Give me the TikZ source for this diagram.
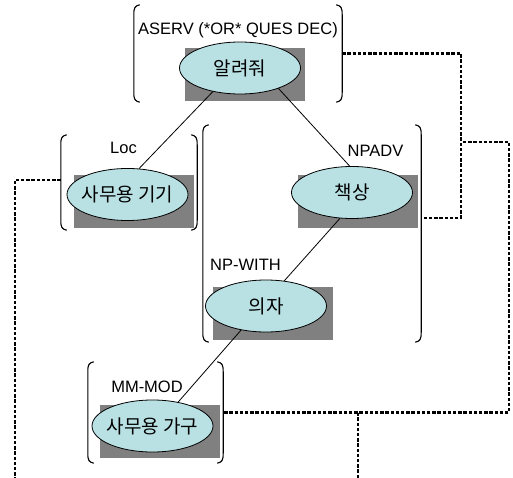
\documentclass[tikz,border=0pt]{standalone}
\usepackage{fontspec}
\setmainfont{Liberation Sans}
\newfontfamily\krfont{Noto Sans CJK KR}
\usetikzlibrary{shapes.geometric}
\definecolor{bubfill}{RGB}{185,225,228}
\definecolor{shadegray}{RGB}{128,128,128}
\newcommand\grpbrackets[1]{%
  \draw[brk] ([xshift=6pt]#1.north west) .. controls ([xshift=1pt,yshift=-1pt]#1.north west) and ([yshift=-3pt]#1.north west) .. ([yshift=-10pt]#1.north west)
     -- ([yshift=10pt]#1.south west) .. controls ([yshift=3pt]#1.south west) and ([xshift=1pt,yshift=1pt]#1.south west) .. ([xshift=6pt]#1.south west);
  \draw[brk] ([xshift=-6pt]#1.north east) .. controls ([xshift=-1pt,yshift=-1pt]#1.north east) and ([yshift=-3pt]#1.north east) .. ([yshift=-10pt]#1.north east)
     -- ([yshift=10pt]#1.south east) .. controls ([yshift=3pt]#1.south east) and ([xshift=-1pt,yshift=1pt]#1.south east) .. ([xshift=-6pt]#1.south east);
}
\begin{document}
\begin{tikzpicture}[x=1pt,y=-1pt,
  bub/.style={ellipse, draw=black, line width=0.8pt, fill=bubfill, minimum width=121pt, minimum height=52pt, inner sep=0pt, font=\krfont\fontsize{19}{19}\selectfont},
  shadebox/.style={fill=shadegray, draw=none, minimum width=120pt, minimum height=53pt, inner sep=0pt},
  lab/.style={font=\fontsize{16.5}{16.5}\selectfont, inner sep=0pt, anchor=base},
  grp/.style={draw=none, inner sep=0pt},
  brk/.style={line width=1.1pt},
  link/.style={line width=0.8pt},
  dsh/.style={line width=2.2pt, dash pattern=on 3.4pt off 1.8pt}
]
\fill[white] (0,0) rectangle (513,478);
\useasboundingbox (0,0) rectangle (513,478);

% groups (bracket spans)
\node[grp, minimum width=208pt, minimum height=97pt] (G1) at (238,53.5) {};
\node[grp, minimum width=136pt, minimum height=95pt] (G2) at (129,182.5) {};
\node[grp, minimum width=218pt, minimum height=217pt] (G3) at (312,233.5) {};
\node[grp, minimum width=135pt, minimum height=101pt] (G4) at (155.5,412.5) {};
\grpbrackets{G1}
\grpbrackets{G2}
\grpbrackets{G3}
\grpbrackets{G4}

% shadows
\node[shadebox] (s1) at (245,75) {};
\node[shadebox] (s2) at (133.5,201.5) {};
\node[shadebox] (s3) at (358,201.5) {};
\node[shadebox] (s4) at (273,313.5) {};
\node[shadebox] (s5) at (160,431.5) {};

% ellipses
\node[bub] (e1) at (240,68) {\makebox[0pt]{알려줘}};
\node[bub] (e2) at (127.5,194.5) {\makebox[0pt]{사무용 기기}};
\node[bub] (e3) at (352,192.5) {\makebox[0pt]{책상}};
\node[bub] (e4) at (266,306) {\makebox[0pt]{의자}};
\node[bub] (e5) at (152.5,426) {\makebox[0pt]{사무용 가구}};

% labels
\node[lab] (l1) at (238,35) {ASERV (*OR* QUES DEC)};
\node[lab] (l2) at (123.5,154) {Loc};
\node[lab] (l3) at (375.5,157) {NPADV};
\node[lab] (l4) at (245.5,270) {NP-WITH};
\node[lab] (l5) at (147,392) {MM-MOD};

% connectors
\draw[link] (e1.221) -- (e2.66);
\draw[link] (e1.332) -- (e3.95);
\draw[link] (e3.245) -- (e4.54);
\draw[link] (e4.224) -- (e5.43);

% dashed links
\coordinate (c1) at (461,218);
\coordinate (c2) at (463,142);
\coordinate (c3) at (509,412.5);
\coordinate (c4) at (358,478);
\coordinate (c5) at (15,478);
\draw[dsh] (G1.east) -| (c1) -- ([yshift=15.5pt]G3.east);
\draw[dsh] (c2) -| (c3) -- (G4.east);
\draw[dsh] (c4) -- (c4 |- G4.east);
\draw[dsh] ([yshift=2.5pt]G2.west) -| (c5);
\end{tikzpicture}
\end{document}
